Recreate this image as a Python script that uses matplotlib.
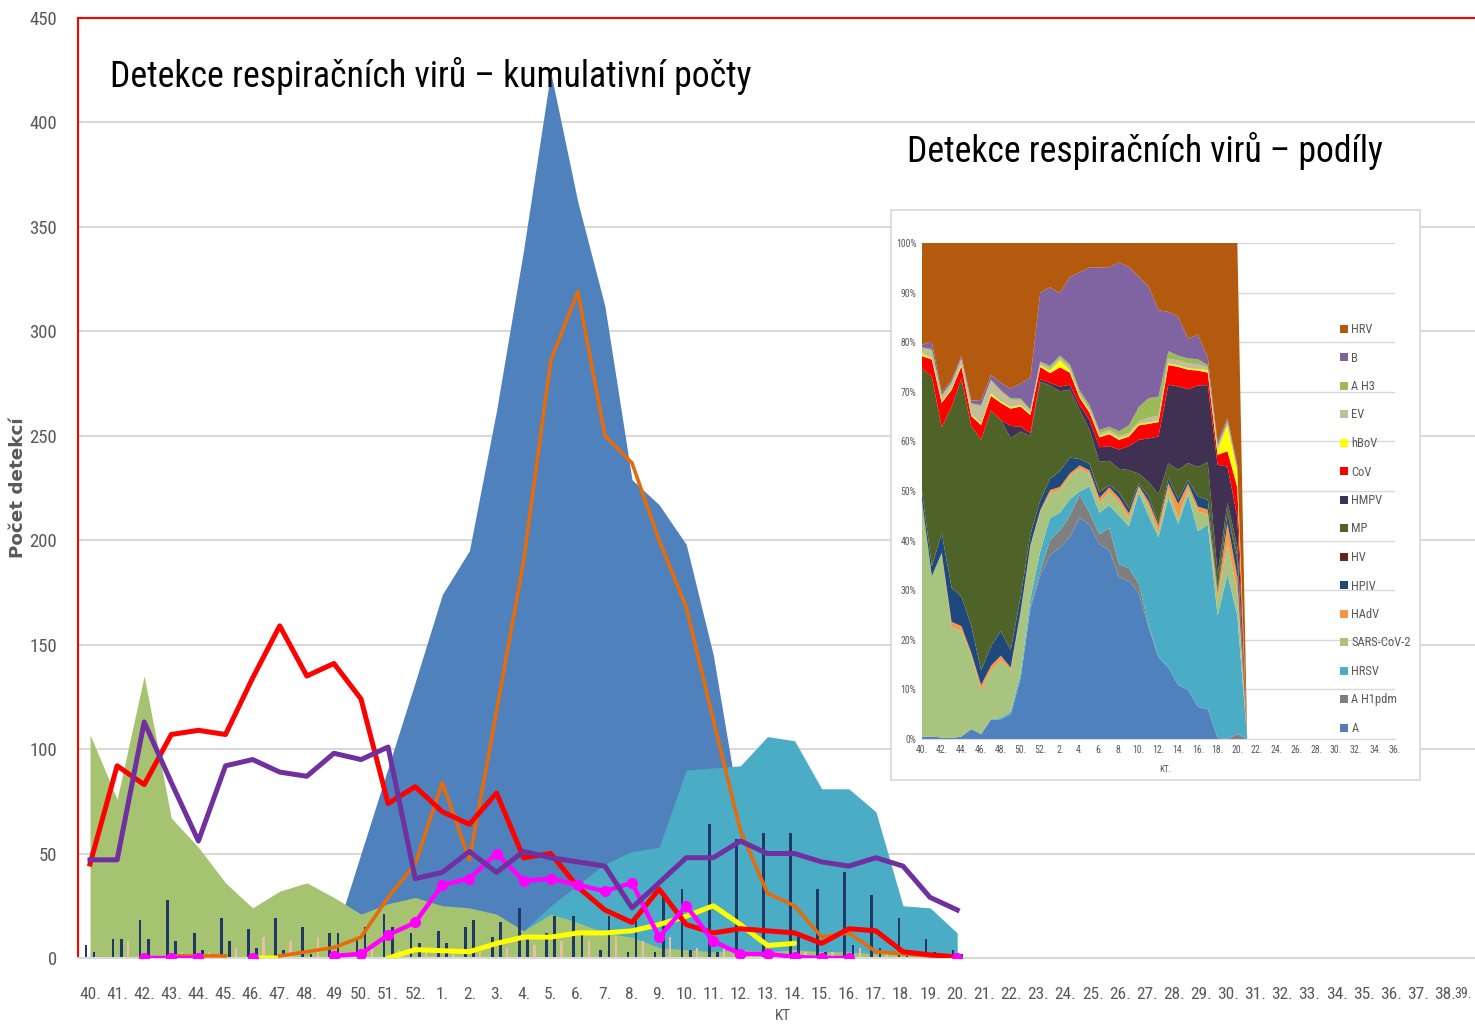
import numpy as np
import matplotlib
matplotlib.use('Agg')
import matplotlib.pyplot as plt
from matplotlib.patches import Patch
from matplotlib import font_manager
from matplotlib.transforms import ScaledTranslation

W, H = 1475, 1028
avail = {f.name for f in font_manager.fontManager.ttflist}
NARROW = None
for cand in ['Liberation Sans Narrow', 'Roboto Condensed', 'Open Sans Condensed', 'Lato']:
    if cand in avail:
        NARROW = cand
        break
FAM = [NARROW, 'DejaVu Sans'] if NARROW else ['DejaVu Sans']
plt.rcParams['font.family'] = FAM

# ---------------- main chart data (weeks 40..52, 1..20) ----------------
x_labels = ['40.', '41.', '42.', '43.', '44.', '45.', '46.', '47.', '48.', '49', '50.', '51.', '52.'] + \
           [f'{w}.' for w in range(1, 40)]
nan = np.nan
area_A = [0, 0, 0, 0, 0, 0, 0, 0, 0, 9, 50, 91, 132, 174, 195, 262, 339, 424, 362, 312, 229, 217, 198,
          145, 68, 15, 5, 0, 0, 0, 0, 0, 0]
area_HRSV = [0, 0, 0, 0, 0, 0, 0, 0, 0, 0, 0, 0, 0, 0, 0, 2, 13, 25, 35, 45, 51, 53, 90, 91, 92, 106, 104,
             81, 81, 70, 25, 24, 12]
area_green = [107, 76, 135, 67, 53, 36, 24, 32, 36, 29, 21, 26, 29, 25, 24, 21, 13, 21, 17, 12, 10, 5, 4,
              3, 4, 3, 4, 3, 3, 2, 2, 2, 1]
line_red = [45, 92, 83, 107, 109, 107, 134, 159, 135, 141, 124, 74, 82, 70, 64, 79, 48, 50, 34, 23, 17, 33,
            16, 12, 14, 13, 12, 7, 14, 13, 3, 1.5, 0.5]
line_purple = [47, 47, 113, 84, 56, 92, 95, 89, 87, 98, 95, 101, 38, 41, 51, 41, 51, 48, 46, 44, 24, 36, 48,
               48, 56, 50, 50, 46, 44, 48, 44, 29, 23]
line_orange = [nan, nan, nan, 1, 1, 1, nan, 1, 3, 5, 10, 29, 45, 84, 47, 118, 190, 286, 319, 250, 237, 200,
               168, 114, 61, 31, 25, 10, 12, 3, 2, 1, 1]
line_magenta = [nan, nan, 0, 0, 0, nan, 0, nan, nan, 1, 2, 11, 17, 35, 38, 50, 37, 38, 35, 32, 36, 10, 25,
                8, 2, 2, 0.5, 0, 0, nan, nan, nan, 0]
line_yellow = [nan, nan, nan, nan, nan, nan, 0, 0, nan, nan, nan, 0, 4, 3.5, 3, 7, 10, 10, 12, 12, 13, 16,
               20, 25, 16, 6, 7, nan, nan, nan, nan, nan, nan]
bars_navy1 = [6, 9, 18, 28, 12, 19, 14, 19, 15, 12, 10, 21, 12, 13, 15, 10, 24, 12, 20, 4, 3, 3, 33, 64, 57,
              60, 60, 33, 41, 30, 19, 9, 4]
bars_navy2 = [3, 9, 9, 8, 4, 8, 5, 4, 2, 12, 15, 15, 7, 7, 18, 17, 10, 20, 12, 20, 20, 29, 4, 3, 3, 3, 10,
              3, 6, 5, 3, 3, 2]
bars_pale = [0, 8, 0, 3, 3, 5, 10, 8, 10, 0, 5, 4, 3, 3, 3, 5, 6, 8, 8, 10, 8, 10, 5, 5, 3, 3, 3, 3, 5, 3,
             3, 2, 0]

# ---------------- inset data (shares, weeks 40..52, 1..21) ----------------
in_labels = ['HRV', 'B', 'A H3', 'EV', 'hBoV', 'CoV', 'HMPV', 'MP', 'HV', 'HPIV', 'HAdV', 'SARS-CoV-2',
             'HRSV', 'A H1pdm', 'A']
s_A = [0.5, 0.5, 0.3, 0.2, 0.5, 2, 1, 4, 4, 5, 12, 25, 33, 37.5, 40, 41.6, 45, 43.6, 39.6, 39, 33.5, 32.9,
       30.2, 23, 17, 14.5, 11, 10, 6.5, 6, 0.2, 0, 0, 0]
s_H1 = [0, 0, 0, 0, 0, 0, 0, 0, 0, 0, 0, 0.5, 1, 3, 3.6, 4.4, 4.7, 2.4, 2, 4.6, 2.7, 2.7, 2, 0.5, 0, 0, 0,
        0, 0, 0, 0, 0, 1, 0]
s_HRSV = [0, 0, 0, 0, 0, 0, 0, 0, 0.3, 0.5, 1, 1.5, 4, 4.5, 3.7, 3.4, 0.7, 5.4, 4.4, 4.7, 10.1, 8.7, 18.8,
          22.5, 25, 34.5, 33, 39.7, 35.5, 37, 24.6, 32, 24, 0]
s_SARS = [47.5, 32.5, 37.7, 22.8, 21.5, 15, 9, 10, 11.7, 8.5, 12, 10, 8, 5, 4.7, 4.6, 4.6, 2.6, 2, 2.7, 2.7,
          1.7, 1, 2, 1, 2, 1, 1.3, 4, 2, 3.2, 6, 5, 0]
s_HAdV = [0, 0, 0, 1, 1, 0.5, 1, 1, 1, 0.5, 0.3, 0.3, 0.3, 0.7, 0.7, 0.7, 0.7, 0.7, 1, 1, 1, 1, 0.5, 1, 1.5,
          1, 3, 1, 1, 1, 1.5, 4, 3, 0]
s_HPIV = [2, 2, 4, 7, 6, 5.5, 3, 4, 5, 3.5, 3, 2, 2, 2.3, 3.3, 3.3, 1.3, 1.3, 1, 0.5, 1, 1, 0.5, 1, 0.5, 1,
          1, 0.7, 2, 2, 0.5, 2, 3, 0]
s_HV = [0, 0, 0, 0, 0, 0, 0, 0, 0, 0, 0, 0, 0, 0, 0, 0, 0, 0, 0.3, 0, 0, 0, 0, 0, 0, 0, 0, 0, 0, 0, 0, 0,
        1, 0]
s_MP = [24.7, 38.4, 21.6, 37, 44.4, 40.5, 47, 48.3, 43, 43, 33, 19, 24, 19, 16.7, 14, 10, 7, 6, 5, 5, 8, 2,
        3, 6, 3, 6, 3.5, 6, 7.5, 3, 2, 2, 0]
s_HMPV = [0, 0, 0, 0, 0, 0, 0, 0, 0, 2.5, 1, 0.5, 0.5, 0.5, 1, 1, 1, 2, 3, 3, 4, 5, 7, 9, 12, 16, 17, 15,
          16.5, 15.5, 22, 7, 6, 0]
s_CoV = [2.5, 3.5, 5, 3.5, 2.5, 2, 3, 3, 3.5, 3.5, 4, 3.5, 2.5, 2, 4, 2.5, 1.5, 1.5, 2, 2.5, 2, 2, 3, 3, 3,
         4, 4, 4, 3, 2.5, 2, 3, 6, 0]
s_hBoV = [0.5, 0.3, 0.3, 0.3, 0.3, 0.3, 0.3, 0.5, 0.3, 0.3, 0.3, 0.3, 0.3, 0.5, 1.5, 0.5, 0.3, 0.3, 0.3,
          0.3, 0.3, 0.3, 0.3, 0.3, 0.3, 0.3, 0.3, 0.3, 0.3, 0.5, 1, 5, 3, 0]
s_EV = [1, 1.5, 1, 1, 1, 2, 3.5, 2.5, 2, 1.5, 1, 0.5, 0.5, 0.5, 0.5, 0.5, 0.5, 0.5, 0.5, 0.5, 0.5, 0.5, 0.5,
        1, 1, 1, 1, 1, 1, 0.5, 0.5, 0.5, 0.5, 0]
s_AH3 = [0.3] * 13 + [0.5, 0.5, 0.7, 0.7, 0.7, 0.7, 0.7, 1, 1.5, 3, 4, 4, 1.5, 1, 1, 1, 0.5, 0.5, 0.5, 0.5, 0]
s_B = [0.5, 1.5, 0.5, 0.5, 0.5, 0.5, 1, 1, 1.5, 2, 3, 6, 14, 16, 13, 18, 24, 28, 33, 33, 35, 33, 27, 23, 18,
       8, 8, 4, 5, 1.5, 0.5, 0.5, 0.5, 0]
s_HRV = [20.5, 20, 30.5, 28, 23, 32, 32, 27, 28.5, 29.5, 28, 26, 10, 9, 10.5, 7, 6, 5, 5, 5, 4, 5, 7, 9, 14,
         14, 15, 19.5, 18.5, 23, 40, 34, 45, 0]
in_xlabels = ['40.', '42.', '44.', '46.', '48.', '50.', '52.'] + [f'{w}.' for w in range(2, 37, 2)]

# ---------------- colours ----------------
C_BLUE, C_TEAL, C_GREEN = '#4F81BD', '#4BACC6', '#A6C372'
C_NAVY, C_PALE = '#1F3864', '#E8BFA5'
GRID = '#D9D9D9'
TXT = '#595959'
in_colors = {'HRV': '#B35A0E', 'B': '#8064A2', 'A H3': '#9BBB59', 'EV': '#C4BD97', 'hBoV': '#FFFF00',
             'CoV': '#FF0000', 'HMPV': '#403152', 'MP': '#4F6228', 'HV': '#632523', 'HPIV': '#1F497D',
             'HAdV': '#F79646', 'SARS-CoV-2': '#A9C47F', 'HRSV': '#4BACC6', 'A H1pdm': '#7F7F7F',
             'A': '#4F81BD'}

fig = plt.figure(figsize=(W / 100, H / 100), dpi=100)
fig.patch.set_facecolor('white')


def fx(px):
    return px / W


def fy(py):
    return 1 - py / H


# ---------------- main axes ----------------
ax = fig.add_axes([fx(78), fy(958), fx(1475) - fx(78), fy(18) - fy(958)])
n = len(area_A)
xi = np.arange(n)
ax.fill_between(xi, 0, area_A, color=C_BLUE, lw=0, zorder=1)
ax.fill_between(xi, 0, area_HRSV, color=C_TEAL, lw=0, zorder=1.1)
ax.fill_between(xi, 0, area_green, color=C_GREEN, lw=0, zorder=1.2)
ax.bar(xi - 0.15, bars_navy1, width=0.1, color=C_NAVY, zorder=2)
ax.bar(xi + 0.15, bars_navy2, width=0.1, color=C_NAVY, zorder=2)
ax.bar(xi + 0.4, bars_pale, width=0.08, color=C_PALE, zorder=2)
ax.plot(xi, line_yellow, color='#FFFF00', lw=3.6, zorder=3, solid_capstyle='round')
ax.plot(xi, line_orange, color='#E46C0A', lw=2.6, zorder=4)
ax.plot(xi, line_red, color='#FF0000', lw=3.6, zorder=5)
ax.plot(xi, line_magenta, color='#FF00FF', lw=3.2, marker='o', ms=7, zorder=6)
ax.plot(xi, line_purple, color='#7030A0', lw=3.6, zorder=7)

ax.set_xlim(-0.443, 51.107)
ax.set_ylim(0, 450)
ax.set_xticks(np.arange(len(x_labels)))
ax.set_xticklabels(x_labels, fontsize=12.5, color=TXT)
last = ax.get_xticklabels()[-1]
last.set_horizontalalignment('right')
last.set_fontsize(10)
last.set_transform(last.get_transform() + ScaledTranslation(2 / 100, 0, fig.dpi_scale_trans))
ax.set_yticks(np.arange(0, 451, 50))
ax.set_yticklabels([str(v) for v in range(0, 451, 50)], fontsize=13.5, color=TXT)
ax.tick_params(axis='both', length=0)
ax.tick_params(axis='x', pad=21)
ax.tick_params(axis='y', pad=15)
ax.grid(axis='y', color=GRID, lw=1.5, zorder=0)
ax.set_axisbelow(True)
for s in ['left', 'top']:
    ax.spines[s].set_color('#FF0000')
    ax.spines[s].set_linewidth(1.5)
ax.spines['right'].set_visible(False)
ax.spines['bottom'].set_color(GRID)
ax.spines['bottom'].set_linewidth(1.5)

renderer = fig.canvas.get_renderer()

ylab = fig.text(fx(18), fy(488), 'Počet detekcí', rotation=90, ha='center', va='center', fontsize=11,
                fontweight='bold', color=TXT, family=['DejaVu Sans'])
hh = ylab.get_window_extent(renderer=renderer).height
ylab.set_fontsize(11 * 140 / hh)
fig.text(fx(783), fy(1016), 'KT', ha='center', va='center', fontsize=11, color=TXT)


def fit_text(x, y, s, target_w, size0=24):
    t = fig.text(fx(x), fy(y), s, ha='left', va='center', fontsize=size0, color='black')
    w = t.get_window_extent(renderer=renderer).width
    t.set_fontsize(size0 * target_w / w)
    return t


fit_text(110, 76, 'Detekce respiračních virů – kumulativní počty', 642)
fit_text(907, 151, 'Detekce respiračních virů – podíly', 476)

# ---------------- inset frame ----------------
fr = fig.add_axes([fx(891), fy(780), fx(1420) - fx(891), fy(210) - fy(780)])
fr.set_facecolor('white')
fr.set_xticks([])
fr.set_yticks([])
for s in fr.spines.values():
    s.set_color('#D9D9D9')
    s.set_linewidth(1.2)
fr.set_zorder(5)

ax2 = fig.add_axes([fx(922), fy(739), fx(1395) - fx(922), fy(243) - fy(739)])
ax2.set_zorder(6)
ax2.patch.set_alpha(0)
order_bottom_up = ['A', 'A H1pdm', 'HRSV', 'SARS-CoV-2', 'HAdV', 'HPIV', 'HV', 'MP', 'HMPV', 'CoV', 'hBoV',
                   'EV', 'A H3', 'B', 'HRV']
series = {'A': s_A, 'A H1pdm': s_H1, 'HRSV': s_HRSV, 'SARS-CoV-2': s_SARS, 'HAdV': s_HAdV, 'HPIV': s_HPIV,
          'HV': s_HV, 'MP': s_MP, 'HMPV': s_HMPV, 'CoV': s_CoV, 'hBoV': s_hBoV, 'EV': s_EV, 'A H3': s_AH3,
          'B': s_B, 'HRV': s_HRV}
M = np.array([series[k] for k in order_bottom_up], dtype=float)
tot = M.sum(axis=0)
pct = np.where(tot > 0, M / np.where(tot > 0, tot, 1) * 100, 0)
xin = np.arange(M.shape[1])
ax2.stackplot(xin, *pct, colors=[in_colors[k] for k in order_bottom_up], lw=0, zorder=2)
ax2.set_xlim(0, 48)
ax2.set_ylim(0, 100)
ax2.set_yticks(np.arange(0, 101, 10))
ax2.set_yticklabels([f'{v}%' for v in range(0, 101, 10)], fontsize=7, color=TXT)
ax2.set_xticks(np.arange(0, 49, 2))
ax2.set_xticklabels(in_xlabels, fontsize=7, color=TXT)
ax2.tick_params(axis='both', length=0, pad=4)
ax2.grid(axis='y', color=GRID, lw=1.0, zorder=0)
ax2.set_axisbelow(True)
for s in ['left', 'top', 'right']:
    ax2.spines[s].set_visible(False)
ax2.spines['bottom'].set_color(GRID)
fig.text(fx(1165), fy(770), 'KT.', ha='center', va='center', fontsize=6.5, color=TXT, zorder=10)

handles = [Patch(facecolor=in_colors[k], edgecolor='none') for k in in_labels]
leg = fig.legend(handles, in_labels, loc='upper left', bbox_to_anchor=(fx(1340), fy(323)), frameon=False,
                 fontsize=9, handlelength=0.6, handleheight=0.6, handletextpad=0.3, labelspacing=1.24,
                 borderaxespad=0, borderpad=0)
for t in leg.get_texts():
    t.set_color(TXT)
leg.set_zorder(10)

fig.savefig('out.png', dpi=100)
